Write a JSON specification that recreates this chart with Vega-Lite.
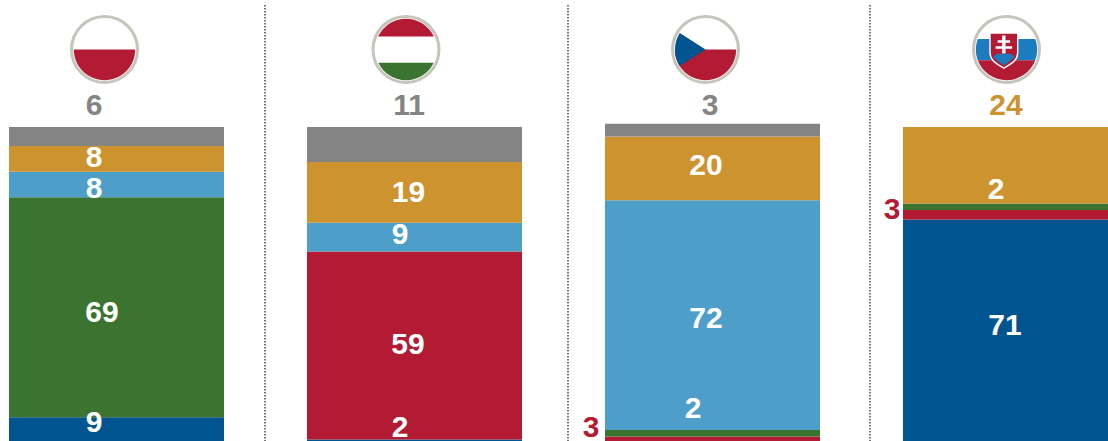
{"$schema":"https://vega.github.io/schema/vega-lite/v6.json","width":1108,"height":441,"autosize":"none","padding":0,"background":"white",
"config":{"view":{"stroke":null},"text":{"font":"Liberation Sans","fontWeight":"bold","fontSize":30}},
"datasets":{"rows":[
{"country":"Poland","series":"Navy","order":1,"value":9,"label":"9"},{"country":"Poland","series":"Green","order":3,"value":69,"label":"69"},{"country":"Poland","series":"Blue","order":4,"value":8,"label":"8"},{"country":"Poland","series":"Orange","order":5,"value":8,"label":"8"},{"country":"Poland","series":"Gray","order":6,"value":6,"label":"6"},
{"country":"Hungary","series":"Navy","order":1,"value":2,"label":"2"},{"country":"Hungary","series":"Red","order":2,"value":59,"label":"59"},{"country":"Hungary","series":"Blue","order":4,"value":9,"label":"9"},{"country":"Hungary","series":"Orange","order":5,"value":19,"label":"19"},{"country":"Hungary","series":"Gray","order":6,"value":11,"label":"11"},
{"country":"Czechia","series":"Red","order":2,"value":3,"label":"3"},{"country":"Czechia","series":"Green","order":3,"value":2,"label":"2"},{"country":"Czechia","series":"Blue","order":4,"value":72,"label":"72"},{"country":"Czechia","series":"Orange","order":5,"value":20,"label":"20"},{"country":"Czechia","series":"Gray","order":6,"value":4,"label":"3"},
{"country":"Slovakia","series":"Navy","order":1,"value":71,"label":"71"},{"country":"Slovakia","series":"Red","order":2,"value":3,"label":"3"},{"country":"Slovakia","series":"Green","order":3,"value":2,"label":"2"},{"country":"Slovakia","series":"Orange","order":5,"value":24,"label":"24"}],
"countries":[{"country":"Poland"},{"country":"Hungary"},{"country":"Czechia"},{"country":"Slovakia"}]},
"data":{"name":"rows"},
"transform":[{"stack":"value","groupby":["country"],"sort":[{"field":"order"}],"as":["y0","y1"]},{"calculate":"(datum.y0+datum.y1)/2","as":"mid"}],
"encoding":{"x":{"field":"country","type":"nominal","axis":null,"sort":null,"scale":{"type":"band","domain":["Poland","Hungary","Czechia","Slovakia"],"range":[-32.5,1159.5],"paddingInner":0.2785,"paddingOuter":0.13925}}},
"layer":[
{"mark":{"type":"bar","clip":true},"encoding":{"y":{"field":"y0","type":"quantitative","axis":null,"scale":{"domain":[0,139.8],"range":[446,0],"nice":false,"zero":false}},"y2":{"field":"y1"},"color":{"field":"series","type":"nominal","legend":null,"scale":{"domain":["Navy","Red","Green","Blue","Orange","Gray"],"range":["#00548f","#b31b34","#3a7430","#4d9fca","#cd932f","#848484"]}}}},
{"data":{"name":"countries"},"layer":[
{"transform":[{"filter":"datum.country==='Poland'"}],"mark":{"type":"rule","xOffset":148.5,"stroke":"#777777","strokeWidth":2,"strokeDash":[1.5,1.5],"clip":true},"encoding":{"y":{"datum":138.2,"type":"quantitative"},"y2":{"datum":0}}},
{"transform":[{"filter":"datum.country==='Hungary'"}],"mark":{"type":"rule","xOffset":153.5,"stroke":"#777777","strokeWidth":2,"strokeDash":[1.5,1.5],"clip":true},"encoding":{"y":{"datum":138.2,"type":"quantitative"},"y2":{"datum":0}}},
{"transform":[{"filter":"datum.country==='Czechia'"}],"mark":{"type":"rule","xOffset":157.5,"stroke":"#777777","strokeWidth":2,"strokeDash":[1.5,1.5],"clip":true},"encoding":{"y":{"datum":138.2,"type":"quantitative"},"y2":{"datum":0}}}]},
{"data":{"name":"countries"},"encoding":{"y":{"datum":124.3,"type":"quantitative"},"size":{"value":4356}},"layer":[
{"transform":[{"filter":"datum.country==='Poland'"}],"layer":[
{"mark":{"type":"point","filled":true,"shape":"circle","opacity":1,"fill":"white","stroke":"#c6c4bb","strokeWidth":3,"xOffset":-12}},
{"mark":{"type":"point","filled":true,"opacity":1,"fill":"#b31b34","xOffset":-12,"shape":"M-0.93,0A0.93,0.93 0 0 0 0.93,0Z"}}]},
{"transform":[{"filter":"datum.country==='Hungary'"}],"layer":[
{"mark":{"type":"point","filled":true,"shape":"circle","opacity":1,"fill":"white","stroke":"#c6c4bb","strokeWidth":3,"xOffset":-8.5}},
{"mark":{"type":"point","filled":true,"opacity":1,"fill":"#b31b34","xOffset":-8.5,"shape":"M-0.845,-0.39A0.93,0.93 0 0 1 0.845,-0.39Z"}},
{"mark":{"type":"point","filled":true,"opacity":1,"fill":"#3a7430","xOffset":-8.5,"shape":"M-0.84,0.4A0.93,0.93 0 0 0 0.84,0.4Z"}}]},
{"transform":[{"filter":"datum.country==='Czechia'"}],"layer":[
{"mark":{"type":"point","filled":true,"shape":"circle","opacity":1,"fill":"white","stroke":"#c6c4bb","strokeWidth":3,"xOffset":-7}},
{"mark":{"type":"point","filled":true,"opacity":1,"fill":"#b31b34","xOffset":-7,"shape":"M-0.93,0A0.93,0.93 0 0 0 0.93,0Z"}},
{"mark":{"type":"point","filled":true,"opacity":1,"fill":"#00548f","xOffset":-7,"shape":"M0,0L-0.78,-0.5A0.93,0.93 0 0 0 -0.78,0.5Z"}}]},
{"transform":[{"filter":"datum.country==='Slovakia'"}],"layer":[
{"mark":{"type":"point","filled":true,"shape":"circle","opacity":1,"fill":"white","stroke":"#c6c4bb","strokeWidth":3,"xOffset":-4}},
{"mark":{"type":"point","filled":true,"opacity":1,"fill":"#1c7cc0","xOffset":-4,"shape":"M-0.87,-0.32A0.93,0.93 0 0 0 -0.87,0.33L0.87,0.33A0.93,0.93 0 0 0 0.87,-0.32Z"}},
{"mark":{"type":"point","filled":true,"opacity":1,"fill":"#b31b34","xOffset":-4,"shape":"M-0.87,0.33A0.93,0.93 0 0 0 0.87,0.33Z"}},
{"mark":{"type":"point","filled":true,"opacity":1,"fill":"#b31b34","stroke":"white","strokeWidth":1.4,"xOffset":-4,"shape":"M-0.5,-0.5L0.34,-0.5L0.34,0.1C0.34,0.35 0.1,0.45 -0.08,0.57C-0.26,0.45 -0.5,0.35 -0.5,0.1Z"}},
{"mark":{"type":"point","filled":true,"opacity":1,"fill":"#1c7cc0","xOffset":-4,"shape":"M-0.4,0.22Q-0.25,0.06 -0.08,0.16Q0.1,0.06 0.24,0.22C0.15,0.35 0.02,0.4 -0.08,0.48C-0.18,0.4 -0.31,0.35 -0.4,0.22Z"}},
{"mark":{"type":"point","filled":true,"opacity":1,"fill":"white","xOffset":-4,"shape":"M-0.13,-0.42L-0.03,-0.42L-0.03,-0.28L0.11,-0.28L0.11,-0.2L-0.03,-0.2L-0.03,-0.1L0.17,-0.1L0.17,-0.02L-0.03,-0.02L-0.03,0.12L-0.13,0.12L-0.13,-0.02L-0.33,-0.02L-0.33,-0.1L-0.13,-0.1L-0.13,-0.2L-0.27,-0.2L-0.27,-0.28L-0.13,-0.28Z"}}]}]},
{"encoding":{"y":{"field":"mid","type":"quantitative"},"text":{"field":"label"}},"layer":[
{"transform":[{"filter":"datum.country==='Poland'&&datum.series==='Navy'"}],"mark":{"type":"text","fill":"white","dx":-22.5,"dy":-9}},
{"transform":[{"filter":"datum.country==='Poland'&&datum.series==='Green'"}],"mark":{"type":"text","fill":"white","dx":-14.5,"dy":6}},
{"transform":[{"filter":"datum.country==='Poland'&&datum.series==='Blue'"}],"mark":{"type":"text","fill":"white","dx":-22.5,"dy":5}},
{"transform":[{"filter":"datum.country==='Poland'&&datum.series==='Orange'"}],"mark":{"type":"text","fill":"white","dx":-22.5,"dy":-1}},
{"transform":[{"filter":"datum.country==='Poland'&&datum.series==='Gray'"}],"mark":{"type":"text","fill":"#848484","dx":-22.5,"dy":-31}},
{"transform":[{"filter":"datum.country==='Hungary'&&datum.series==='Navy'"}],"mark":{"type":"text","fill":"white","dx":-14.5,"dy":-15}},
{"transform":[{"filter":"datum.country==='Hungary'&&datum.series==='Red'"}],"mark":{"type":"text","fill":"white","dx":-6.5,"dy":-1}},
{"transform":[{"filter":"datum.country==='Hungary'&&datum.series==='Blue'"}],"mark":{"type":"text","fill":"white","dx":-14.5,"dy":-2}},
{"transform":[{"filter":"datum.country==='Hungary'&&datum.series==='Orange'"}],"mark":{"type":"text","fill":"white","dx":-6,"dy":0.5}},
{"transform":[{"filter":"datum.country==='Hungary'&&datum.series==='Gray'"}],"mark":{"type":"text","fill":"#848484","dx":-5.5,"dy":-38.5}},
{"transform":[{"filter":"datum.country==='Czechia'&&datum.series==='Red'"}],"mark":{"type":"text","fill":"#b31b34","dx":-121.5,"dy":-13}},
{"transform":[{"filter":"datum.country==='Czechia'&&datum.series==='Green'"}],"mark":{"type":"text","fill":"white","dx":-19.5,"dy":-24}},
{"transform":[{"filter":"datum.country==='Czechia'&&datum.series==='Blue'"}],"mark":{"type":"text","fill":"white","dx":-6.5,"dy":4}},
{"transform":[{"filter":"datum.country==='Czechia'&&datum.series==='Orange'"}],"mark":{"type":"text","fill":"white","dx":-6.5,"dy":-2.5}},
{"transform":[{"filter":"datum.country==='Czechia'&&datum.series==='Gray'"}],"mark":{"type":"text","fill":"#848484","dx":-2.5,"dy":-24}},
{"transform":[{"filter":"datum.country==='Slovakia'&&datum.series==='Navy'"}],"mark":{"type":"text","fill":"white","dx":-5.5,"dy":-7}},
{"transform":[{"filter":"datum.country==='Slovakia'&&datum.series==='Red'"}],"mark":{"type":"text","fill":"#b31b34","dx":-118.5,"dy":-5}},
{"transform":[{"filter":"datum.country==='Slovakia'&&datum.series==='Green'"}],"mark":{"type":"text","fill":"white","dx":-14.5,"dy":-17}},
{"transform":[{"filter":"datum.country==='Slovakia'&&datum.series==='Orange'"}],"mark":{"type":"text","fill":"#cd932f","dx":-4.5,"dy":-59}}]}
]}
